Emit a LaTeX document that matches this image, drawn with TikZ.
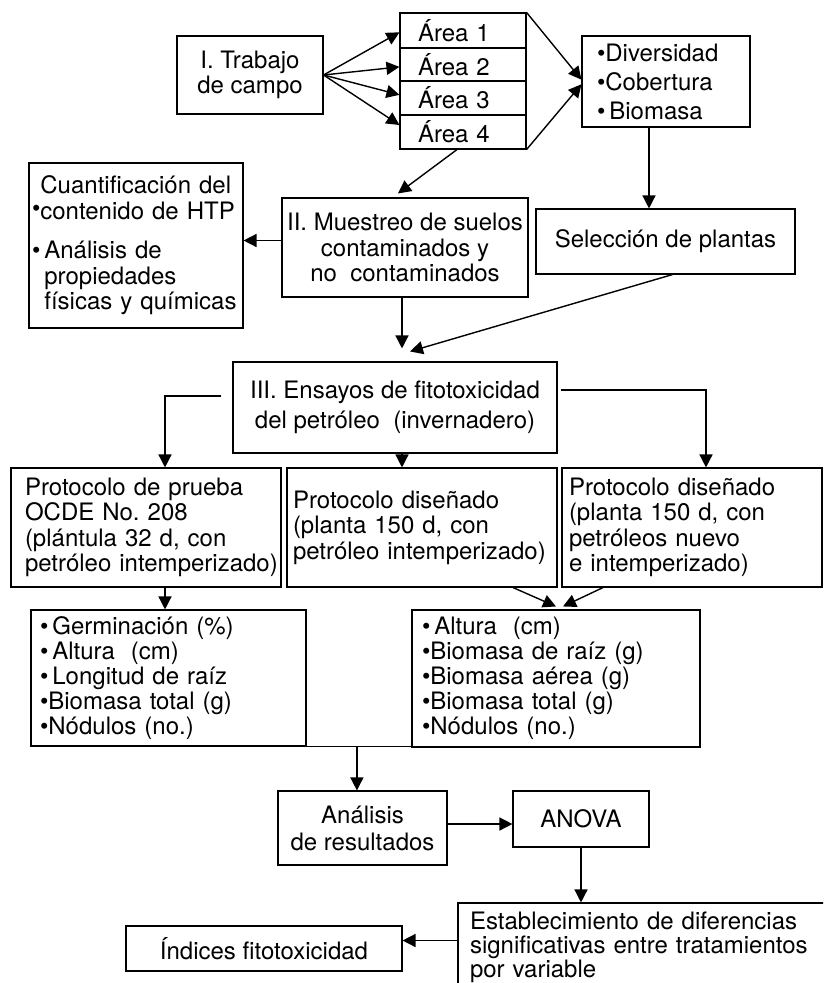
\documentclass[tikz,border=0pt]{standalone}
\usepackage{fontspec}
\setmainfont{TeX Gyre Heros}
\usetikzlibrary{arrows.meta,calc}
\newcommand\fsz[1]{\fontsize{24}{#1}\selectfont}
\begin{document}
\begin{tikzpicture}[x=1pt,y=-1pt,
  bx/.style={draw, line width=1.1pt, inner sep=0pt, font=\fsz{25.5}},
  lbox/.style={bx, align=left},
  cbox/.style={bx, align=center},
  arr/.style={-{Triangle[length=13pt,width=13pt]}, line width=1.4pt},
  plain/.style={line width=1.4pt}]
\useasboundingbox (0,0) rectangle (823,983);
\clip (0,0) rectangle (823,983);

% top row
\node[cbox, minimum width=146pt, minimum height=78pt] (trab) at (250,75) {I. Trabajo\\de campo};
\node[lbox, minimum height=35pt, text width=90pt, inner xsep=18pt] (a1) at (463,30.5) {Área 1};
\node[lbox, minimum height=33pt, text width=90pt, inner xsep=18pt] (a2) at (463,64.5) {Área 2};
\node[lbox, minimum height=34pt, text width=90pt, inner xsep=18pt] (a3) at (463,98) {Área 3};
\node[lbox, minimum height=34pt, text width=90pt, inner xsep=18pt] (a4) at (463,132) {Área 4};
\node[lbox, minimum height=91pt, text width=138pt, inner xsep=15pt, font=\fsz{29}] (div) at (666,81.5) {•Diversidad\\•Cobertura\\•\,Biomasa};

% second row
\node[lbox, minimum height=165pt, text width=208pt, inner xsep=3pt] (cuan) at (136,245.5)
  {\hphantom{•}Cuantificación del\\\raisebox{3pt}{•}contenido de HTP\\[14pt]•\,Análisis de\\\hphantom{•\,}propiedades\\\hphantom{•\,}físicas y químicas};
\node[cbox, minimum width=246pt, minimum height=99pt] (mues) at (405,247.5) {II. Muestreo de suelos\\contaminados y\\no\ \ contaminados};
\node[cbox, minimum width=259pt, minimum height=65pt] (sel) at (665.5,241.5) {Selección de plantas};

% third row
\node[cbox, minimum width=324pt, minimum height=91pt, font=\fsz{30}] (ens) at (395,407.5) {III. Ensayos de fitotoxicidad\\del petróleo\ \ (invernadero)};

% protocols
\node[lbox, minimum height=119pt, text width=242pt, inner xsep=14pt] (p1) at (146,527.5)
  {Protocolo de prueba\\OCDE No.\ 208\\(plántula 32 d, con\\\mbox{petróleo intemperizado)}};
\node[lbox, minimum height=119pt, text width=258pt, inner xsep=6pt] (p2) at (422,527.5)
  {Protocolo diseñado\\(planta 150 d, con\\\mbox{petróleo intemperizado)}};
\node[lbox, minimum height=119pt, text width=246pt, inner xsep=7pt] (p3) at (692,527.5)
  {Protocolo diseñado\\(planta 150 d, con\\petróleos nuevo\\e intemperizado)};

% metrics
\node[lbox, minimum height=136pt, text width=257pt, inner xsep=9pt, font=\fsz{25}] (germ) at (168.5,678)
  {•\,Germinación (\%)\\•\,Altura\ \ (cm)\\•\,Longitud de raíz\\•Biomasa total (g)\\•Nódulos (no.)};
\node[lbox, minimum height=137pt, text width=268pt, inner xsep=10pt, font=\fsz{25}] (rm) at (556,678.5)
  {•\,Altura\ \ (cm)\\•Biomasa de raíz (g)\\•Biomasa aérea (g)\\•Biomasa total (g)\\•Nódulos (no.)};

% bottom
\node[cbox, minimum width=169pt, minimum height=74pt, font=\fsz{27}] (ana) at (362.5,828) {Análisis\\de resultados};
\node[cbox, minimum width=136pt, minimum height=56pt] (anova) at (581,819) {ANOVA};
\node[lbox, minimum height=88pt, text width=356pt, inner xsep=12pt, font=\fsz{24}] (est) at (648,947)
  {Establecimiento de diferencias\\significativas entre tratamientos\\por variable};
\node[cbox, minimum width=276pt, minimum height=45pt] (ind) at (264,948.5) {Índices fitotoxicidad};

% helper coordinates
\coordinate (dvs) at ([xshift=-17pt]div.south);
\coordinate (mw) at ([yshift=7pt]mues.west);
\coordinate (ms) at ([xshift=-3pt]mues.south);
\coordinate (es) at ([xshift=7pt]ens.south);
\coordinate (p1s) at ([xshift=19pt]p1.south);
\coordinate (ae) at ([yshift=4pt]ana.east);
\coordinate (ie) at ([yshift=8pt]ind.east);

% connectors
\draw[arr] (trab.east) -- ($(a1.north west)!0.55!(a1.south west)$);
\draw[arr] (trab.east) -- ($(a2.north west)!0.57!(a2.south west)$);
\draw[arr] (trab.east) -- ($(a3.north west)!0.41!(a3.south west)$);
\draw[arr] (trab.east) -- ($(a4.north west)!0.30!(a4.south west)$);
\draw[arr] (a1.north east) -- ($(div.north west)!0.48!(div.south west)$);
\draw[arr] (a4.south east) -- ($(div.north west)!0.53!(div.south west)$);
\draw[arr] (dvs) -- (dvs |- sel.north);
\draw[arr] ([xshift=-6pt]a4.south) -- ([xshift=-7pt,yshift=4pt]mues.north);
\draw[arr] (mw) -- (mw -| cuan.east);
\draw[arr, shorten >=13pt] (ms) -- (ms |- ens.north);
\draw[arr] ([xshift=7pt]sel.south) -- ([xshift=15pt,yshift=10pt]ens.north);
\draw[arr] ([xshift=-11pt,yshift=11.5pt]ens.west) -| ([xshift=19pt]p1.north);
\draw[arr] ([xshift=3pt,yshift=17.5pt]ens.east) -| ([xshift=14pt]p3.north);
\draw[arr] (es) -- (es |- p2.north);
\draw[arr] (p1s) -- (p1s |- germ.north);
\draw[arr] ([xshift=91pt]p2.south) -- ([yshift=3pt]rm.north);
\draw[arr] ([xshift=-89pt]p3.south) -- ([xshift=7pt,yshift=3pt]rm.north);
\draw[plain] (germ.south east) -- (germ.south east -| rm.west);
\coordinate (j) at ($(germ.south east)!0.48!(germ.south east -| rm.west)$);
\draw[arr] (j) -- (j |- ana.north);
\draw[arr] (ae) -- (ae -| anova.west);
\draw[arr] (anova.south) -- (anova.south |- est.north);
\draw[arr] (ie -| est.west) -- (ie);
\end{tikzpicture}
\end{document}
